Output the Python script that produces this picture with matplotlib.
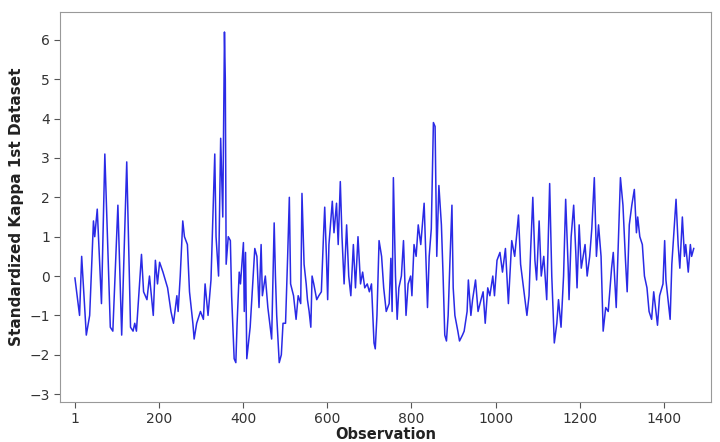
import matplotlib as mpl
import matplotlib.pyplot as plt

mpl.rcParams['font.family'] = 'DejaVu Sans'

# observation number and standardized kappa value
obs = [1, 12, 17, 28, 36, 45, 48, 54, 59, 64, 72, 85, 91, 103, 112, 124, 133, 139, 143, 147,
       159, 164, 172, 178, 187, 192, 197, 202, 210, 221, 229, 235, 243, 246, 251, 257, 261, 268,
       273, 281, 284, 290, 299, 306, 310, 317, 324, 333, 336, 342, 347, 352, 356, 358, 360, 365,
       370, 373, 379, 383, 386, 391, 394, 401, 403, 406, 409, 417, 422, 428, 433, 438, 443, 446,
       453, 459, 468, 474, 477, 480, 486, 491, 495, 501, 506, 510, 513, 520, 526, 531, 537, 540,
       545, 550, 553, 557, 561, 564, 568, 575, 580, 586, 591, 594, 598, 601, 604, 612, 616, 622,
       626, 631, 635, 640, 646, 651, 656, 662, 667, 673, 679, 684, 689, 695, 700, 705, 711, 714,
       718, 723, 729, 734, 740, 747, 751, 754, 757, 762, 766, 770, 776, 781, 787, 792, 798, 801,
       806, 811, 816, 822, 830, 838, 842, 847, 852, 856, 860, 865, 871, 875, 879, 883, 887, 891,
       896, 899, 903, 910, 914, 921, 925, 932, 935, 941, 945, 952, 958, 965, 970, 975, 981, 986,
       993, 997, 1003, 1010, 1016, 1023, 1030, 1038, 1045, 1054, 1059, 1067, 1074, 1079, 1083,
       1088, 1093, 1097, 1103, 1108, 1114, 1121, 1128, 1133, 1139, 1145, 1149, 1155, 1161, 1166,
       1172, 1174, 1179, 1185, 1190, 1193, 1198, 1203, 1212, 1217, 1223, 1228, 1234, 1239, 1244,
       1250, 1255, 1261, 1267, 1275, 1279, 1286, 1296, 1302, 1308, 1312, 1317, 1323, 1329, 1334,
       1337, 1342, 1348, 1353, 1359, 1364, 1370, 1375, 1384, 1389, 1397, 1401, 1404, 1414, 1418,
       1428, 1433, 1437, 1443, 1448, 1451, 1457, 1462, 1465, 1470]
kappa = [-0.05, -1.0, 0.5, -1.5, -1.0, 1.4, 1.0, 1.7, 0.5, -0.7, 3.1, -1.3, -1.4, 1.8, -1.5,
         2.9, -1.3, -1.4, -1.2, -1.4, 0.55, -0.4, -0.6, 0.0, -1.0, 0.4, -0.2, 0.35, 0.1, -0.3,
         -0.9, -1.2, -0.5, -0.9, 0.0, 1.4, 1.0, 0.8, -0.4, -1.2, -1.6, -1.2, -0.9, -1.1, -0.2,
         -1.0, -0.1, 3.1, 1.0, 0.0, 3.5, 1.5, 6.2, 5.0, 0.3, 1.0, 0.9, -0.5, -2.1, -2.2, -1.2,
         0.1, -0.2, 0.85, -0.9, 0.6, -2.1, -1.3, -0.4, 0.7, 0.5, -0.8, 0.8, -0.5, 0.0, -0.8,
         -1.6, 1.35, 0.0, -1.0, -2.2, -2.0, -1.2, -1.2, 0.5, 2.0, -0.2, -0.5, -1.1, -0.5, -0.7,
         2.1, 0.3, -0.2, -0.6, -0.9, -1.3, 0.0, -0.2, -0.6, -0.5, -0.4, 1.0, 1.75, 0.5, -0.6,
         0.8, 1.9, 1.1, 1.85, 0.8, 2.4, 1.0, -0.2, 1.3, 0.0, -0.5, 0.8, -0.3, 1.0, -0.2, 0.1,
         -0.3, -0.2, -0.4, -0.2, -1.7, -1.85, -1.0, 0.9, 0.5, -0.3, -0.9, -0.7, 0.45, -0.9, 2.5,
         0.0, -1.1, -0.3, 0.0, 0.9, -1.0, -0.2, 0.0, -0.5, 0.8, 0.5, 1.3, 0.8, 1.85, -0.8, 0.5,
         1.2, 3.9, 3.8, 0.5, 2.3, 1.3, 0.0, -1.5, -1.65, -1.0, 0.3, 1.8, -0.3, -1.0, -1.4,
         -1.65, -1.5, -1.4, -0.9, -0.1, -1.0, -0.6, -0.1, -0.9, -0.6, -0.4, -1.2, -0.3, -0.5,
         0.0, -0.5, 0.4, 0.6, 0.1, 0.7, -0.7, 0.9, 0.5, 1.55, 0.3, -0.4, -1.0, -0.5, 0.7, 2.0,
         0.4, -0.1, 1.4, 0.0, 0.5, -0.6, 2.35, 0.0, -1.7, -1.2, -0.6, -1.3, 0.0, 1.95, 0.2, -0.6,
         1.0, 1.8, 0.6, -0.3, 1.3, 0.2, 0.8, 0.0, 0.5, 1.2, 2.5, 0.5, 1.3, 0.5, -1.4, -0.8, -0.9,
         0.2, 0.6, -0.8, 2.5, 1.8, 0.4, -0.4, 1.3, 1.8, 2.2, 1.1, 1.5, 1.0, 0.8, 0.0, -0.3, -0.9,
         -1.1, -0.4, -1.25, -0.5, -0.2, 0.9, -0.1, -1.1, 0.3, 1.95, 0.8, 0.2, 1.5, 0.5, 0.8, 0.1,
         0.8, 0.5, 0.7]

xticks = [1, 200, 400, 600, 800, 1000, 1200, 1400]
yticks = [-3, -2, -1, 0, 1, 2, 3, 4, 5, 6]

fig = plt.figure(figsize=(7.2, 4.42), dpi=100)
ax = fig.add_axes([0.083, 0.0905, 0.9045, 0.8825])

ax.plot(obs, kappa, color='#2a2ae6', linewidth=1.1)

ax.set_xlim(-35, 1511)
ax.set_ylim(-3.2, 6.71)
ax.set_xticks(xticks)
ax.set_yticks(yticks)
ax.tick_params(labelsize=10, colors='#555555', labelcolor='#333333', length=4, pad=3)
for sp in ax.spines.values():
    sp.set_color('#999999')

ax.set_xlabel('Observation', fontsize=10.5, fontweight='bold', color='#222222', labelpad=1)
ax.set_ylabel('Standardized Kappa 1st Dataset', fontsize=11, fontweight='bold', color='#222222')

plt.savefig('out.png', dpi=100)
